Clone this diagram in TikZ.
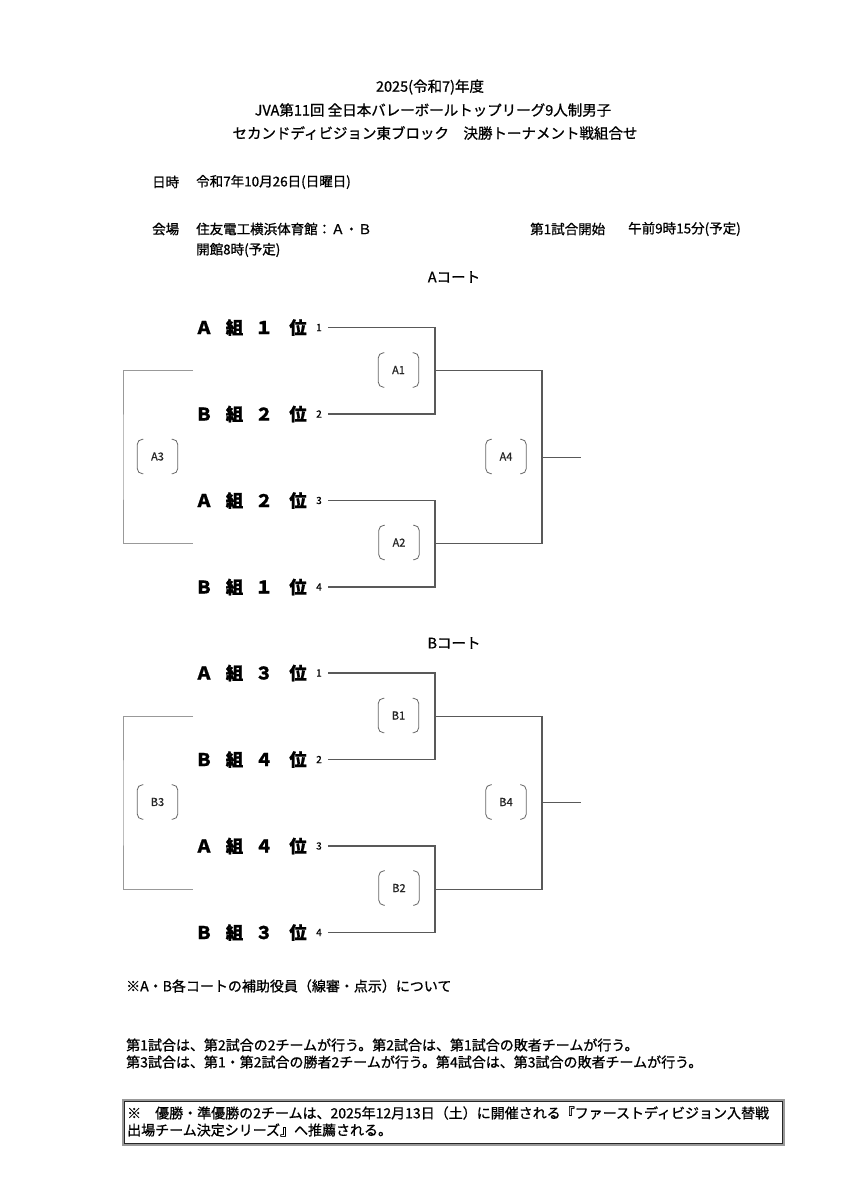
\documentclass[tikz,border=0pt]{standalone}
\usepackage{fontspec}
\setmainfont{Noto Sans CJK JP}[RawFeature={embolden=0.9}]
\newcommand\matchbox[3]{%
  \node[matchlbl] (#1) at (#2) {#3};
  \draw[br] ([xshift=6pt]#1.north west) -- (#1.north west) -- (#1.south west) -- ([xshift=6pt]#1.south west);
  \draw[br] ([xshift=-6pt]#1.north east) -- (#1.north east) -- (#1.south east) -- ([xshift=-6pt]#1.south east);}
\newcommand\teamrow[5]{%
  \node[teamch] (#1a) at (204,#2) {#3};
  \node[teamch] (#1b) at (234.5,#2) {組};
  \node[teamch] (#1c) at (264,#2) {#4};
  \node[teamch] (#1d) at (298,#2) {位};
  \node[seed] (#1s) at (319,#2) {#5};
  \coordinate (#1e) at (328,#2);}
\begin{document}
\begin{tikzpicture}[x=1pt,y=-1pt,
  txt/.style={inner sep=0pt, anchor=west, font=\fontsize{14}{17}\selectfont},
  hdr/.style={inner sep=0pt, anchor=west, font=\fontsize{13.5}{16}\selectfont},
  ttl/.style={inner sep=0pt, font=\fontsize{14.5}{17}\selectfont},
  teamch/.style={inner sep=0pt, font=\bfseries\fontsize{17.5}{20}\selectfont},
  seed/.style={inner sep=0pt, font=\fontsize{10}{12}\selectfont},
  matchlbl/.style={minimum width=40pt, minimum height=34pt, inner sep=0pt, font=\fontsize{11}{13}\selectfont, text=black!85},
  br/.style={draw=black!60, line width=0.8pt, rounded corners=5pt},
  ln/.style={draw=black!65, line width=1.1pt},
  lnthree/.style={draw=black!40, line width=1pt}]
\useasboundingbox (0,0) rectangle (866,1200);
\fill[white] (0,0) rectangle (866,1200);

% titles
\node[ttl] (t1) at (430,87) {2025(令和7)年度};
\node[ttl] (t2) at (433,110) {JVA第11回 全日本バレーボールトップリーグ9人制男子};
\node[ttl] (t3) at (435,133) {セカンドディビジョン東ブロック　決勝トーナメント戦組合せ};

% header info
\node[hdr] (h1) at (152,182) {日時};
\node[hdr] (h1v) at (196,182) {令和7年10月26日(日曜日)};
\node[hdr] (h2) at (152,229) {会場};
\node[hdr] (h2v) at (196,229) {住友電工横浜体育館：Ａ・Ｂ};
\node[hdr] (h3) at (196,250) {開館8時(予定)};
\node[hdr] (h4) at (530,229) {第1試合開始};
\node[hdr] (h4v) at (628,229) {午前9時15分(予定)};

% ===== A court =====
\node[ttl] (ac) at (454,277) {Aコート};
\teamrow{Ar1}{327.5}{Ａ}{１}{1}
\teamrow{Ar2}{414}{Ｂ}{２}{2}
\teamrow{Ar3}{500.5}{Ａ}{２}{3}
\teamrow{Ar4}{587}{Ｂ}{１}{4}
\coordinate (A1j) at (435,370.75);
\coordinate (A2j) at (435,543.75);
\coordinate (A4j) at (542,457.25);
\coordinate (Aout) at (581,457.25);
\coordinate (A3t) at (193,370.75);
\coordinate (A3b) at (193,543.75);
\coordinate (A3l) at (123,457.25);
\draw[ln] (Ar1e) -| (A1j) |- (Ar2e);
\draw[ln] (Ar3e) -| (A2j) |- (Ar4e);
\draw[ln] (A1j) -| (A4j) |- (A2j);
\draw[ln] (A4j) -- (Aout);
\draw[lnthree] (A3t) -| (A3l) |- (A3b);
\matchbox{mA1}{398.5,370}{A1}
\matchbox{mA2}{399,542.5}{A2}
\matchbox{mA3}{157.5,456.5}{A3}
\matchbox{mA4}{506,456.5}{A4}

% ===== B court =====
\node[ttl] (bc) at (454,643) {Bコート};
\teamrow{Br1}{673}{Ａ}{３}{1}
\teamrow{Br2}{759.5}{Ｂ}{４}{2}
\teamrow{Br3}{846}{Ａ}{４}{3}
\teamrow{Br4}{932.5}{Ｂ}{３}{4}
\coordinate (B1j) at (435,716.25);
\coordinate (B2j) at (435,889.25);
\coordinate (B4j) at (542,802.75);
\coordinate (Bout) at (581,802.75);
\coordinate (B3t) at (193,716.25);
\coordinate (B3b) at (193,889.25);
\coordinate (B3l) at (123,802.75);
\draw[ln] (Br1e) -| (B1j) |- (Br2e);
\draw[ln] (Br3e) -| (B2j) |- (Br4e);
\draw[ln] (B1j) -| (B4j) |- (B2j);
\draw[ln] (B4j) -- (Bout);
\draw[lnthree] (B3t) -| (B3l) |- (B3b);
\matchbox{mB1}{398.5,715.5}{B1}
\matchbox{mB2}{399,888}{B2}
\matchbox{mB3}{157.5,802}{B3}
\matchbox{mB4}{506,802}{B4}

% notes
\node[txt] (n0) at (126,986) {※A・B各コートの補助役員（線審・点示）について};
\node[txt] (n1) at (126,1045) {第1試合は、第2試合の2チームが行う。第2試合は、第1試合の敗者チームが行う。};
\node[txt] (n2) at (126,1062) {第3試合は、第1・第2試合の勝者2チームが行う。第4試合は、第3試合の敗者チームが行う。};

% box
\draw[black!40, line width=2.6pt] (123,1100) rectangle (784,1145);
\draw[black!85, line width=0.6pt] (124.6,1101.6) rectangle (782.4,1143.4);
\node[txt] (b1) at (127,1113) {※　優勝・準優勝の2チームは、2025年12月13日（土）に開催される『ファーストディビジョン入替戦};
\node[txt] (b2) at (127,1130) {出場チーム決定シリーズ』へ推薦される。};
\end{tikzpicture}
\end{document}
